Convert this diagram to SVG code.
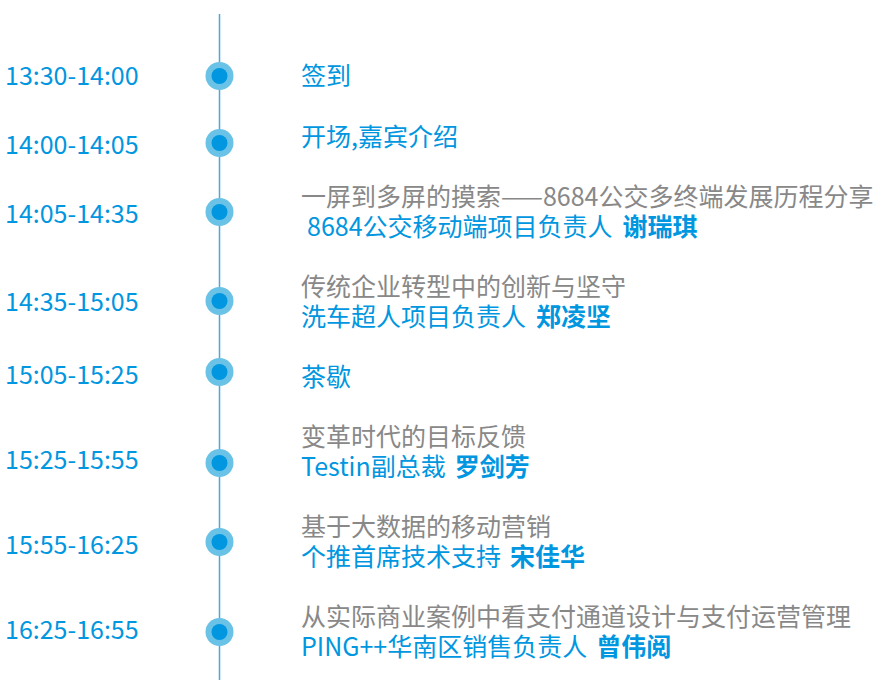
<svg xmlns="http://www.w3.org/2000/svg" width="878" height="693" viewBox="0 0 878 693">
<style>
text{font-family:"Noto Sans CJK SC","Noto Sans",sans-serif;font-size:25px}
.t{fill:#0096e0}.b{fill:#0096e0}.g{fill:#888}.bold{font-weight:bold}
.o{fill:#6ac3e6}.i{fill:#0096e0}
</style>
<rect width="878" height="693" fill="#fff"/>
<g id="connectors"><line x1="219.5" y1="14" x2="219.5" y2="680" stroke="#4aa8dc" stroke-width="1.5"/></g>
<g id="n1"><circle class="o" cx="219.5" cy="76" r="14"/><circle class="i" cx="219.5" cy="76" r="8"/><text class="t" x="5" y="85">13:30-14:00</text><text class="b" x="301" y="85">签到</text></g>
<g id="n2"><circle class="o" cx="219.5" cy="143" r="14"/><circle class="i" cx="219.5" cy="143" r="8"/><text class="t" x="5" y="154">14:00-14:05</text><text class="b" x="301" y="146">开场,嘉宾介绍</text></g>
<g id="n3"><circle class="o" cx="219.5" cy="212" r="14"/><circle class="i" cx="219.5" cy="212" r="8"/><text class="t" x="5" y="223">14:05-14:35</text><text class="g" x="301" y="206">一屏到多屏的摸索——8684公交多终端发展历程分享</text><text class="b" x="307" y="236">8684公交移动端项目负责人<tspan class="bold" dx="10">谢瑞琪</tspan></text></g>
<g id="n4"><circle class="o" cx="219.5" cy="301" r="14"/><circle class="i" cx="219.5" cy="301" r="8"/><text class="t" x="5" y="311">14:35-15:05</text><text class="g" x="301" y="296">传统企业转型中的创新与坚守</text><text class="b" x="301" y="326">洗车超人项目负责人<tspan class="bold" dx="10">郑凌坚</tspan></text></g>
<g id="n5"><circle class="o" cx="219.5" cy="372" r="14"/><circle class="i" cx="219.5" cy="372" r="8"/><text class="t" x="5" y="384">15:05-15:25</text><text class="b" x="301" y="386">茶歇</text></g>
<g id="n6"><circle class="o" cx="219.5" cy="463" r="14"/><circle class="i" cx="219.5" cy="463" r="8"/><text class="t" x="5" y="469">15:25-15:55</text><text class="g" x="301" y="446">变革时代的目标反馈</text><text class="b" x="301" y="476">Testin副总裁<tspan class="bold" dx="9">罗剑芳</tspan></text></g>
<g id="n7"><circle class="o" cx="219.5" cy="542" r="14"/><circle class="i" cx="219.5" cy="542" r="8"/><text class="t" x="5" y="554">15:55-16:25</text><text class="g" x="301" y="536">基于大数据的移动营销</text><text class="b" x="301" y="566">个推首席技术支持<tspan class="bold" dx="9">宋佳华</tspan></text></g>
<g id="n8"><circle class="o" cx="219.5" cy="632" r="14"/><circle class="i" cx="219.5" cy="632" r="8"/><text class="t" x="5" y="639">16:25-16:55</text><text class="g" x="301" y="626">从实际商业案例中看支付通道设计与支付运营管理</text><text class="b" x="301" y="656">PING++华南区销售负责人<tspan class="bold" dx="9">曾伟阅</tspan></text></g>
</svg>
